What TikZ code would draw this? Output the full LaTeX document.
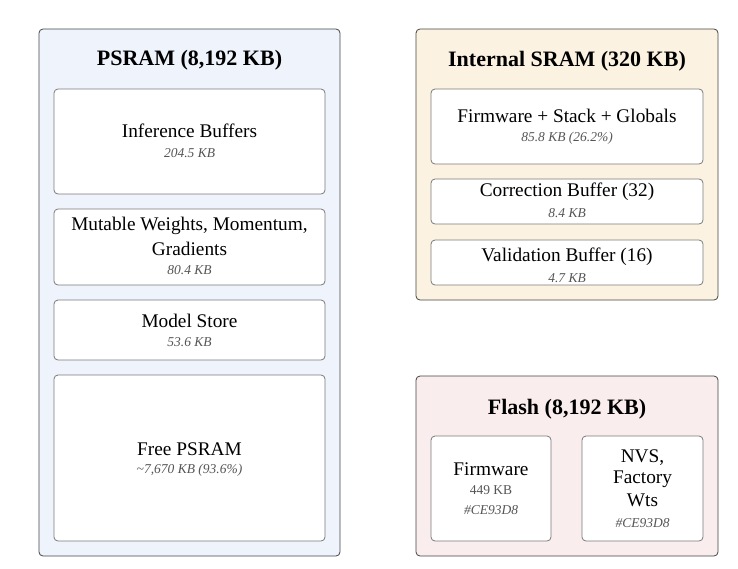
\documentclass[tikz,border=0pt]{standalone}
\usepackage{fontspec}
\setmainfont{Liberation Serif}
\definecolor{psramfill}{HTML}{EEF3FC}
\definecolor{sramfill}{HTML}{FCF2E1}
\definecolor{flashfill}{HTML}{FAEDED}
\definecolor{outerline}{HTML}{444444}
\definecolor{innerline}{HTML}{7A7A7A}
\definecolor{subtext}{HTML}{555555}
\begin{document}
\begin{tikzpicture}[x=1pt,y=-1pt,
  outerbox/.style={draw=outerline,line width=0.8pt,rounded corners=4pt},
  innerbox/.style={draw=innerline,fill=white,line width=0.8pt,rounded corners=4pt},
  titletext/.style={font=\fontsize{22}{25}\selectfont\bfseries,anchor=center,inner sep=0pt},
  maintext/.style={font=\fontsize{19.3}{22}\selectfont,anchor=center,inner sep=0pt},
  subtxt/.style={font=\fontsize{13.5}{16}\selectfont\itshape,text=subtext,anchor=center,inner sep=0pt},
  subup/.style={font=\fontsize{13.5}{16}\selectfont,text=subtext,anchor=center,inner sep=0pt}]
\useasboundingbox (0,0) rectangle (738,568);
% PSRAM
\draw[outerbox,fill=psramfill] (39,29) rectangle (340,556);
\node[titletext] (pt) at (189.5,60) {PSRAM (8,192 KB)};
\draw[innerbox] (54,89) rectangle (325,194);
\node[maintext] (ib) at (189.5,131) {Inference Buffers};
\node[subtxt] (ibs) at (189.5,153) {204.5 KB};
\draw[innerbox] (54,209) rectangle (325,285);
\node[maintext] (mw1) at (189.5,226) {Mutable Weights, Momentum,};
\node[maintext] (mw2) at (189.5,249) {Gradients};
\node[subtxt] (mws) at (189.5,270) {80.4 KB};
\draw[innerbox] (54,300) rectangle (325,360);
\node[maintext] (ms) at (189.5,321) {Model Store};
\node[subtxt] (mss) at (189.5,342) {53.6 KB};
\draw[innerbox] (54,375) rectangle (325,541);
\node[maintext] (fp) at (189.5,449) {Free PSRAM};
\node[subtxt] (fps) at (189.5,470) {\textasciitilde7,670 KB (93.6\%)};
% Internal SRAM
\draw[outerbox,fill=sramfill] (416,29) rectangle (718,300);
\node[titletext] (st) at (567,61) {Internal SRAM (320 KB)};
\draw[innerbox] (431,89) rectangle (703,164);
\node[maintext] (fw) at (567,116) {Firmware + Stack + Globals};
\node[subtxt] (fws) at (567,138) {85.8 KB (26.2\%)};
\draw[innerbox] (431,179) rectangle (703,224);
\node[maintext] (cb) at (567,192) {Correction Buffer (32)};
\node[subtxt] (cbs) at (567,213) {8.4 KB};
\draw[innerbox] (431,240) rectangle (703,285);
\node[maintext] (vb) at (567,257) {Validation Buffer (16)};
\node[subtxt] (vbs) at (567,278) {4.7 KB};
% Flash
\draw[outerbox,fill=flashfill] (416,376) rectangle (718,556);
\node[titletext] (ft) at (567,409) {Flash (8,192 KB)};
\draw[innerbox] (431,436) rectangle (551,541);
\node[maintext] (ff) at (491,469) {Firmware};
\node[subup] (ffs) at (491,490) {449 KB};
\node[subtxt] (ffc) at (491,510) {\#CE93D8};
\draw[innerbox] (582,436) rectangle (703,541);
\node[maintext] (nv1) at (642.5,458) {NVS,};
\node[maintext] (nv2) at (642.5,479) {Factory};
\node[maintext] (nv3) at (642.5,500) {Wts};
\node[subtxt] (nvc) at (642.5,523) {\#CE93D8};
\end{tikzpicture}
\end{document}
